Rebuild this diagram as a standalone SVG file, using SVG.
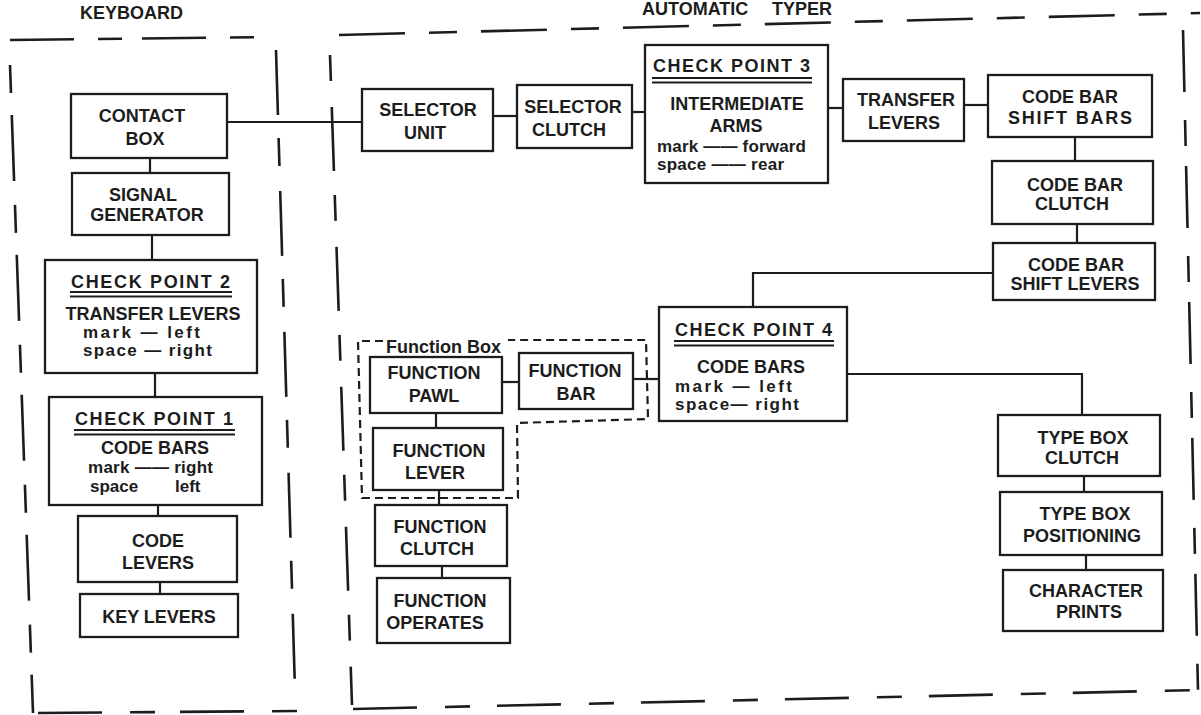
<svg xmlns="http://www.w3.org/2000/svg" width="1201" height="715" viewBox="0 0 1201 715">
<style>
  .bg{fill:#ffffff}
  .box{fill:none;stroke:#1c1c1c;stroke-width:2.3}
  .ln{fill:none;stroke:#1c1c1c;stroke-width:2.2}
  .brd{fill:none;stroke:#1c1c1c;stroke-width:2.6}
  .fbox{fill:none;stroke:#1c1c1c;stroke-width:2.2;stroke-dasharray:8 5}
  .ul{stroke:#1c1c1c;stroke-width:1.8}
  text{font-family:"Liberation Sans",Arial,sans-serif;font-size:18px;font-weight:bold;fill:#1c1c1c}
  .s{font-size:17px}
  .c{text-anchor:middle}
</style>
<rect class="bg" x="0" y="0" width="1201" height="715"/>

<g id="borders">
  <line class="brd" x1="10" y1="40" x2="272" y2="37" stroke-dasharray="64 24 24 20"/>
  <line class="brd" x1="339" y1="35" x2="1200" y2="13" stroke-dasharray="66 24 28 24"/>
  <line class="brd" x1="10" y1="65" x2="33" y2="713" stroke-dasharray="28 22 66 24"/>
  <line class="brd" x1="276" y1="50" x2="295" y2="690" stroke-dasharray="65 23 28 25"/>
  <line class="brd" x1="330" y1="55" x2="352" y2="705" stroke-dasharray="26 26 64 24"/>
  <line class="brd" x1="1183" y1="30" x2="1198" y2="690" stroke-dasharray="62 28 26 20"/>
  <line class="brd" x1="38" y1="713" x2="297" y2="711" stroke-dasharray="64 28 25 25"/>
  <line class="brd" x1="353" y1="709" x2="1200" y2="690" stroke-dasharray="64 28 25 27"/>
  <text x="80" y="19">KEYBOARD</text>
  <text y="15"><tspan x="642">AUTOMATIC</tspan><tspan x="772">TYPER</tspan></text>
</g>

<g id="function-box">
  <path class="fbox" d="M383,341 H358 L362,498 H518 L517,423 L648,419 L646,340 H508"/>
  <text x="386" y="353">Function Box</text>
</g>

<g id="connectors">
  <path class="ln" d="M227,122 H362"/>
  <path class="ln" d="M150,158 V173"/>
  <path class="ln" d="M152,235 V260"/>
  <path class="ln" d="M155,373 V397"/>
  <path class="ln" d="M158,505 V516"/>
  <path class="ln" d="M160,582 V594"/>
  <path class="ln" d="M493,116 H517"/>
  <path class="ln" d="M632,112 H645"/>
  <path class="ln" d="M828,108 H843"/>
  <path class="ln" d="M964,105 H988"/>
  <path class="ln" d="M1075,137 V161"/>
  <path class="ln" d="M1077,224 V243"/>
  <path class="ln" d="M993,273 H753 V307"/>
  <path class="ln" d="M847,374 H1082 V415"/>
  <path class="ln" d="M1084,476 V492"/>
  <path class="ln" d="M1086,555 V570"/>
  <path class="ln" d="M633,379 H659"/>
  <path class="ln" d="M502,382 H519"/>
  <path class="ln" d="M436,413 V428"/>
  <path class="ln" d="M439,490 V505"/>
  <path class="ln" d="M442,566 V578"/>
</g>

<g id="contact-box">
  <rect class="box" x="71" y="94" width="156" height="64"/>
  <text class="c" x="142" y="122">CONTACT</text>
  <text class="c" x="145" y="145">BOX</text>
</g>
<g id="signal-generator">
  <rect class="box" x="72" y="173" width="157" height="62"/>
  <text class="c" x="143" y="201">SIGNAL</text>
  <text class="c" x="147" y="221">GENERATOR</text>
</g>
<g id="check-point-2">
  <rect class="box" x="45" y="260" width="212" height="113"/>
  <text x="71" y="288" textLength="159">CHECK POINT 2</text>
  <line class="ul" x1="70" y1="292" x2="232" y2="292"/>
  <line class="ul" x1="70" y1="296.5" x2="232" y2="296.5"/>
  <text class="c" x="153" y="320">TRANSFER LEVERS</text>
  <text class="s" x="83" y="338" textLength="117">mark — left</text>
  <text class="s" x="83" y="356" textLength="129">space — right</text>
</g>
<g id="check-point-1">
  <rect class="box" x="49" y="397" width="213" height="108"/>
  <text x="75" y="425" textLength="158">CHECK POINT 1</text>
  <line class="ul" x1="74" y1="430" x2="235" y2="430"/>
  <line class="ul" x1="74" y1="434.5" x2="235" y2="434.5"/>
  <text class="c" x="155" y="454">CODE BARS</text>
  <text class="s" x="88" y="473" textLength="125">mark —— right</text>
  <text class="s" y="492"><tspan x="90">space</tspan><tspan x="175">left</tspan></text>
</g>
<g id="code-levers">
  <rect class="box" x="78" y="516" width="159" height="66"/>
  <text class="c" x="158" y="547">CODE</text>
  <text class="c" x="158" y="569">LEVERS</text>
</g>
<g id="key-levers">
  <rect class="box" x="80" y="594" width="158" height="43"/>
  <text class="c" x="159" y="623">KEY LEVERS</text>
</g>

<g id="selector-unit">
  <rect class="box" x="362" y="89" width="131" height="62"/>
  <text class="c" x="428" y="116">SELECTOR</text>
  <text class="c" x="425" y="139">UNIT</text>
</g>
<g id="selector-clutch">
  <rect class="box" x="517" y="85" width="115" height="63"/>
  <text class="c" x="573" y="113">SELECTOR</text>
  <text class="c" x="569" y="136">CLUTCH</text>
</g>
<g id="check-point-3">
  <rect class="box" x="645" y="45" width="183" height="138"/>
  <text x="653" y="72" textLength="157">CHECK POINT 3</text>
  <line class="ul" x1="652" y1="78" x2="812" y2="78"/>
  <line class="ul" x1="652" y1="82.5" x2="812" y2="82.5"/>
  <text class="c" x="737" y="110">INTERMEDIATE</text>
  <text class="c" x="736" y="132">ARMS</text>
  <text class="s" x="657" y="152" textLength="149">mark —— forward</text>
  <text class="s" x="657" y="170" textLength="127">space —— rear</text>
</g>
<g id="transfer-levers">
  <rect class="box" x="843" y="79" width="121" height="62"/>
  <text class="c" x="906" y="106">TRANSFER</text>
  <text class="c" x="904" y="129">LEVERS</text>
</g>
<g id="code-bar-shift-bars">
  <rect class="box" x="988" y="75" width="164" height="62"/>
  <text class="c" x="1070" y="103">CODE BAR</text>
  <text class="c" x="1070" y="124" textLength="124">SHIFT  BARS</text>
</g>
<g id="code-bar-clutch">
  <rect class="box" x="992" y="161" width="161" height="63"/>
  <text class="c" x="1075" y="191">CODE BAR</text>
  <text class="c" x="1072" y="210">CLUTCH</text>
</g>
<g id="code-bar-shift-levers">
  <rect class="box" x="993" y="243" width="162" height="57"/>
  <text class="c" x="1076" y="271">CODE BAR</text>
  <text class="c" x="1075" y="290">SHIFT LEVERS</text>
</g>
<g id="check-point-4">
  <rect class="box" x="659" y="307" width="188" height="114"/>
  <text x="675" y="336" textLength="157">CHECK POINT 4</text>
  <line class="ul" x1="674" y1="341" x2="834" y2="341"/>
  <line class="ul" x1="674" y1="345.5" x2="834" y2="345.5"/>
  <text class="c" x="751" y="373">CODE BARS</text>
  <text class="s" x="675" y="392" textLength="117">mark — left</text>
  <text class="s" x="675" y="410" textLength="124">space— right</text>
</g>
<g id="type-box-clutch">
  <rect class="box" x="998" y="415" width="162" height="61"/>
  <text class="c" x="1083" y="444">TYPE BOX</text>
  <text class="c" x="1082" y="464">CLUTCH</text>
</g>
<g id="type-box-positioning">
  <rect class="box" x="1000" y="492" width="162" height="63"/>
  <text class="c" x="1085" y="520">TYPE BOX</text>
  <text class="c" x="1082" y="542">POSITIONING</text>
</g>
<g id="character-prints">
  <rect class="box" x="1003" y="570" width="160" height="61"/>
  <text class="c" x="1086" y="597">CHARACTER</text>
  <text class="c" x="1089" y="618">PRINTS</text>
</g>

<g id="function-pawl">
  <rect class="box" x="370" y="357" width="132" height="56"/>
  <text class="c" x="434" y="379">FUNCTION</text>
  <text class="c" x="434" y="402">PAWL</text>
</g>
<g id="function-bar">
  <rect class="box" x="519" y="353" width="114" height="56"/>
  <text class="c" x="575" y="377">FUNCTION</text>
  <text class="c" x="576" y="400">BAR</text>
</g>
<g id="function-lever">
  <rect class="box" x="373" y="428" width="130" height="62"/>
  <text class="c" x="439" y="457">FUNCTION</text>
  <text class="c" x="435" y="479">LEVER</text>
</g>
<g id="function-clutch">
  <rect class="box" x="375" y="505" width="132" height="61"/>
  <text class="c" x="440" y="533">FUNCTION</text>
  <text class="c" x="437" y="555">CLUTCH</text>
</g>
<g id="function-operates">
  <rect class="box" x="377" y="578" width="133" height="65"/>
  <text class="c" x="440" y="607">FUNCTION</text>
  <text class="c" x="435" y="629">OPERATES</text>
</g>
</svg>
